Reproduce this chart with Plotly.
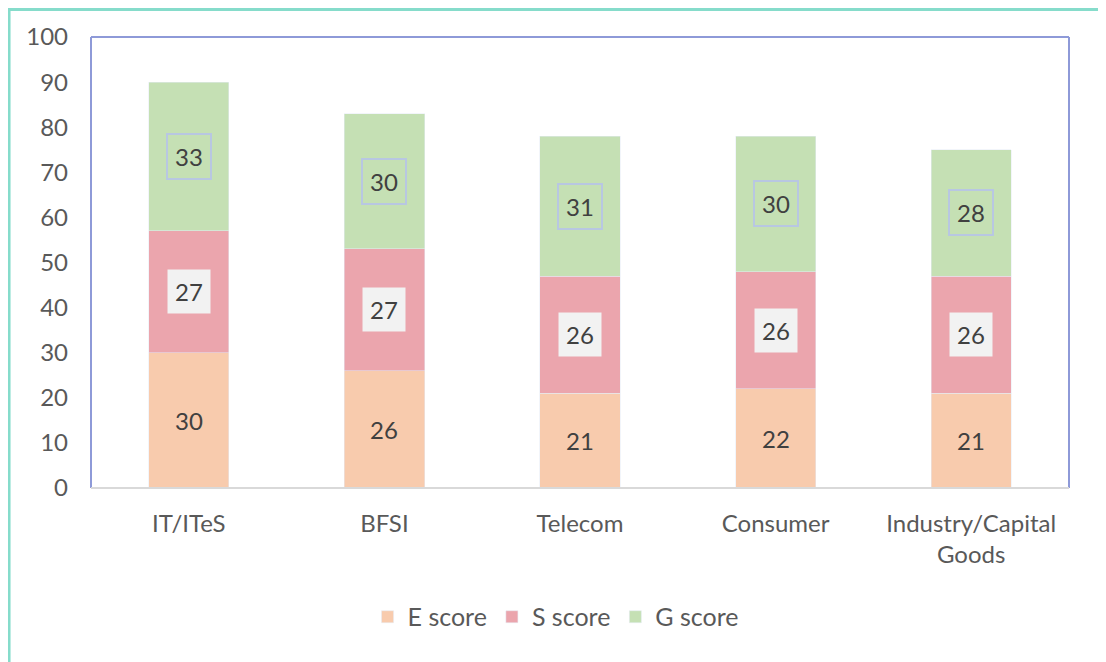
import plotly.graph_objects as go

categories = ["IT/ITeS", "BFSI", "Telecom", "Consumer", "Industry/Capital<br>Goods"]
e_score = [30, 26, 21, 22, 21]
s_score = [27, 27, 26, 26, 26]
g_score = [33, 30, 31, 30, 28]

colors = {"E": "#F8CBAD", "S": "#EBA5AD", "G": "#C5E0B4"}
FONT = "Lato, 'Open Sans', sans-serif"

fig = go.Figure()
fig.add_trace(go.Bar(x=categories, y=e_score, name="E score", marker_color=colors["E"]))
fig.add_trace(go.Bar(x=categories, y=s_score, name="S score", marker_color=colors["S"]))
fig.add_trace(go.Bar(x=categories, y=g_score, name="G score", marker_color=colors["G"]))

# data labels
lab_font = dict(size=24, color="#404040", family=FONT)
for c, e, s, g in zip(categories, e_score, s_score, g_score):
    fig.add_annotation(x=c, y=e / 2, text=str(e), showarrow=False, font=lab_font)
    fig.add_annotation(x=c, y=e + s / 2, text=str(s), showarrow=False, font=lab_font,
                       bgcolor="#F2F2F2", borderpad=7)
    fig.add_annotation(x=c, y=e + s + g / 2, text=str(g), showarrow=False, font=lab_font,
                       bordercolor="#B8C7E2", borderwidth=2, borderpad=7)

# page body has an 8px offset; margins compensate so the plot area lands at 91..1069 x 37..488
L, R, T, B = 83, 45, 29, 182
shapes = [
    dict(type="rect", xref="paper", yref="paper", x0=-0.0838, x1=1.0327, y0=-0.42, y1=1.0610,
         line=dict(color="#86DCCB", width=3), layer="below"),
    dict(type="line", xref="paper", yref="paper", x0=0, x1=1, y0=1, y1=1,
         line=dict(color="#8E9AD8", width=2)),
    dict(type="line", xref="paper", yref="paper", x0=0, x1=0, y0=0, y1=1,
         line=dict(color="#8E9AD8", width=2)),
    dict(type="line", xref="paper", yref="paper", x0=1, x1=1, y0=0, y1=1,
         line=dict(color="#8E9AD8", width=2)),
    dict(type="line", xref="paper", yref="paper", x0=0, x1=1, y0=0, y1=0,
         line=dict(color="#D9D9D9", width=2)),
]

fig.update_layout(
    barmode="stack",
    bargap=0.59,
    width=1106, height=662,
    margin=dict(l=L, r=R, t=T, b=B, autoexpand=False),
    paper_bgcolor="white", plot_bgcolor="white",
    font=dict(family=FONT, size=24, color="#595959"),
    shapes=shapes,
    showlegend=True,
    legend=dict(orientation="h", x=0.475, xanchor="center", y=-0.286, yanchor="middle",
                font=dict(size=25, color="#595959", family=FONT), traceorder="normal",
                itemwidth=30),
    xaxis=dict(showgrid=False, showline=False, ticks="", tickfont=dict(size=24),
               ticklabelstandoff=19),
    yaxis=dict(range=[0, 100], dtick=10, showgrid=False, showline=False, zeroline=False,
               ticks="", tickfont=dict(size=24), ticklabelstandoff=22),
)

fig.write_html("out.html")
